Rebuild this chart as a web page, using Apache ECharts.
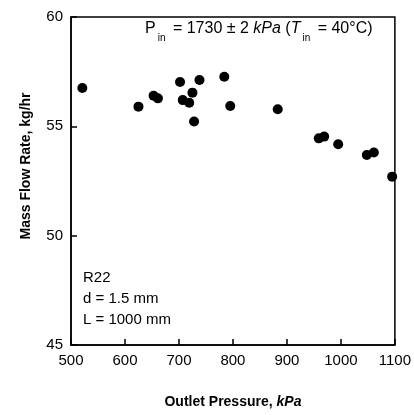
<!DOCTYPE html>
<html><head><meta charset="utf-8">
<script src="https://cdn.jsdelivr.net/npm/echarts@6/dist/echarts.min.js"></script>
<style>html,body{margin:0;padding:0;background:#fff}#c{width:414px;height:415px}</style>
</head><body><div id="c"></div>
<script>
const outletPressure = [521, 625, 653, 661, 702, 707, 719, 725, 728, 738, 784, 795, 883, 959, 969, 995, 1048, 1061, 1095];
const massFlow = [56.75, 55.9, 56.4, 56.28, 57.03, 56.2, 56.08, 56.54, 55.22, 57.12, 57.27, 55.93, 55.78, 54.45, 54.53, 54.18, 53.69, 53.8, 52.7];
const xTicks = [500, 1100, 100];
const yTicks = [45, 60, 5];
const FONT = '"Liberation Sans", Arial, sans-serif';
const chart = echarts.init(document.getElementById('c'));
chart.setOption({
  animation: false,
  grid: {left: 71, right: 17, top: 17, bottom: 70, show: true, borderColor: '#000', borderWidth: 1.5, backgroundColor: 'transparent'},
  xAxis: {
    type: 'value', min: xTicks[0], max: xTicks[1], interval: xTicks[2],
    axisLine: {lineStyle: {color: '#000', width: 1.5}},
    axisTick: {inside: true, length: 6, lineStyle: {color: '#000', width: 1.5}},
    splitLine: {show: false},
    axisLabel: {color: '#000', fontFamily: FONT, fontSize: 15, margin: 8, formatter: v => String(v)},
    name: '{b|Outlet Pressure, }{bi|kPa}', nameLocation: 'middle', nameGap: 50,
    nameTextStyle: {rich: {
      b: {fontFamily: FONT, fontWeight: 'bold', fontSize: 14, color: '#000'},
      bi: {fontFamily: FONT, fontWeight: 'bold', fontStyle: 'italic', fontSize: 14, color: '#000'}
    }}
  },
  yAxis: {
    type: 'value', min: yTicks[0], max: yTicks[1], interval: yTicks[2],
    axisLine: {lineStyle: {color: '#000', width: 1.5}},
    axisTick: {inside: true, length: 6, lineStyle: {color: '#000', width: 1.5}},
    splitLine: {show: false},
    axisLabel: {color: '#000', fontFamily: FONT, fontSize: 15, margin: 8},
    name: 'Mass Flow Rate, kg/hr', nameLocation: 'middle', nameGap: 38,
    nameTextStyle: {fontFamily: FONT, fontWeight: 'bold', fontSize: 14, color: '#000', padding: [0, 0, 0, 30]}
  },
  series: [{
    type: 'scatter', symbol: 'circle', symbolSize: 10,
    itemStyle: {color: '#000', opacity: 1},
    data: outletPressure.map((x, i) => [x, massFlow[i]])
  }],
  graphic: [
    {type: 'text', left: 145, top: 21, style: {
      text: '{n|P}{s|in}{n| = 1730 ± 2 }{i|kPa}{n| (}{i|T}{s|in}{n| = 40°C)}',
      rich: {
        n: {fontFamily: FONT, fontSize: 16, fill: '#000', verticalAlign: 'top', lineHeight: 18},
        i: {fontFamily: FONT, fontSize: 16, fontStyle: 'italic', fill: '#000', verticalAlign: 'top', lineHeight: 18},
        s: {fontFamily: FONT, fontSize: 10, fill: '#000', verticalAlign: 'top', lineHeight: 10, padding: [12, 3, 0, 2]}
      }
    }},
    {type: 'text', left: 83, top: 267, style: {
      text: 'R22\nd = 1.5 mm\nL = 1000 mm',
      fontFamily: FONT, fontSize: 15, fill: '#000', lineHeight: 21
    }}
  ]
});
</script></body></html>
